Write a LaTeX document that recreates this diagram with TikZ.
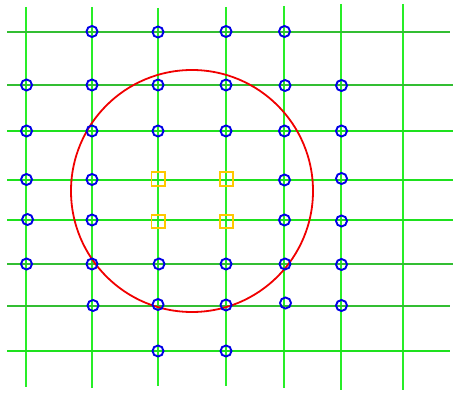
\documentclass[tikz,border=0pt]{standalone}
\begin{document}
\begin{tikzpicture}[x=1pt,y=-1pt,
  vline/.style={draw={rgb,255:red,40;green,238;blue,40},line width=1.6pt},
  hthin/.style={draw={rgb,255:red,30;green,225;blue,30},line width=1.6pt},
  hthick/.style={draw={rgb,255:red,50;green,190;blue,50},line width=2pt},
  pt/.style={circle,draw={rgb,255:red,0;green,0;blue,230},line width=1.9pt,minimum size=11pt,inner sep=0pt},
  sq/.style={rectangle,draw={rgb,255:red,255;green,200;blue,0},line width=1.8pt,minimum size=13.5pt,inner sep=0pt},
  bigc/.style={circle,draw={rgb,255:red,240;green,0;blue,0},line width=1.8pt,minimum size=242pt,inner sep=0pt}]
\useasboundingbox (0,0) rectangle (453,395);
% vertical lines
\draw[vline] (26,7) -- (26,387);
\draw[vline] (92,7) -- (92,388);
\draw[vline] (158,8) -- (158,386);
\draw[vline] (226,7) -- (226,386);
\draw[vline] (284,6) -- (284,388);
\draw[vline] (341,4) -- (341,390);
\draw[vline] (403,4) -- (403,390);
% horizontal lines
\draw[hthick] (7,32) -- (450,32);
\draw[hthick] (7,85) -- (453,85);
\draw[hthin] (7,131) -- (453,131);
\draw[hthin] (7,180) -- (453,180);
\draw[hthin] (7,220) -- (453,220);
\draw[hthick] (7,264) -- (453,264);
\draw[hthick] (7,306) -- (450,306);
\draw[hthin] (7,351) -- (450,351);
% red circle
\node[bigc] (ring) at (192,191) {};
% squares
\node[sq] (s1) at (158.3,179) {};
\node[sq] (s2) at (226.5,179) {};
\node[sq] (s3) at (158.3,221.5) {};
\node[sq] (s4) at (226.5,221.5) {};
% circles row 1
\node[pt] (a2) at (92,31.5) {};
\node[pt] (a3) at (158,32) {};
\node[pt] (a4) at (226,31.5) {};
\node[pt] (a5) at (284.5,31.5) {};
% row 2
\node[pt] (b1) at (26.5,85) {};
\node[pt] (b2) at (92,85) {};
\node[pt] (b3) at (158,85) {};
\node[pt] (b4) at (226,85) {};
\node[pt] (b5) at (285,85.5) {};
\node[pt] (b6) at (341.5,85.5) {};
% row 3
\node[pt] (c1) at (26.5,131) {};
\node[pt] (c2) at (92,131) {};
\node[pt] (c3) at (158,131) {};
\node[pt] (c4) at (226,131) {};
\node[pt] (c5) at (284.5,131) {};
\node[pt] (c6) at (341.5,131) {};
% row 4
\node[pt] (d1) at (26.5,179.5) {};
\node[pt] (d2) at (92,179.5) {};
\node[pt] (d5) at (284.5,180) {};
\node[pt] (d6) at (341.5,178.5) {};
% row 5
\node[pt] (e1) at (27.5,219.5) {};
\node[pt] (e2) at (92,220) {};
\node[pt] (e5) at (284.5,220) {};
\node[pt] (e6) at (341.5,221) {};
% row 6
\node[pt] (f1) at (26.5,264) {};
\node[pt] (f2) at (92,264) {};
\node[pt] (f3) at (159,264) {};
\node[pt] (f4) at (226,264) {};
\node[pt] (f5) at (285,264) {};
\node[pt] (f6) at (341.5,264.5) {};
% row 7
\node[pt] (g2) at (93,305.5) {};
\node[pt] (g3) at (158,304.5) {};
\node[pt] (g4) at (226,305) {};
\node[pt] (g5) at (285.5,303) {};
\node[pt] (g6) at (341.5,305.5) {};
% row 8
\node[pt] (h3) at (158,351) {};
\node[pt] (h4) at (226,351) {};
\end{tikzpicture}
\end{document}
